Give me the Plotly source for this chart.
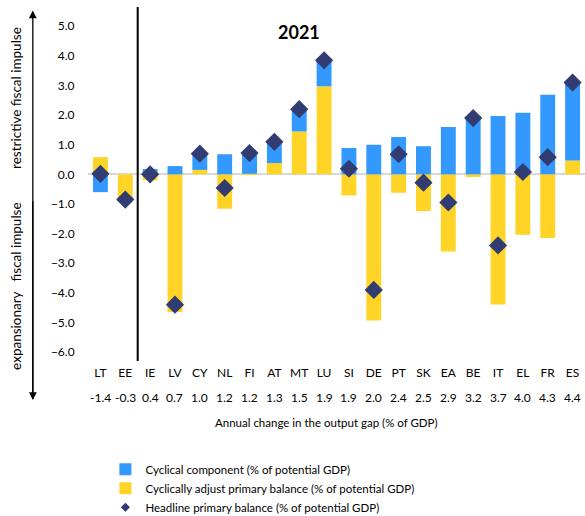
import plotly.graph_objects as go

countries = ["LT", "EE", "IE", "LV", "CY", "NL", "FI", "AT", "MT", "LU",
             "SI", "DE", "PT", "SK", "EA", "BE", "IT", "EL", "FR", "ES"]
gap_change = ["-1.4", "-0.3", "0.4", "0.7", "1.0", "1.2", "1.2", "1.3", "1.5", "1.9",
              "1.9", "2.0", "2.4", "2.5", "2.9", "3.2", "3.7", "4.0", "4.3", "4.4"]
cyclical = [-0.60, -0.05, 0.18, 0.28, 0.55, 0.68, 0.70, 0.72, 0.75, 0.85,
            0.89, 1.00, 1.26, 0.95, 1.60, 1.97, 1.97, 2.08, 2.69, 2.60]
cap_balance = [0.58, -0.78, -0.20, -4.65, 0.15, -1.16, 0.02, 0.38, 1.45, 2.97,
               -0.71, -4.93, -0.62, -1.24, -2.60, -0.09, -4.39, -2.04, -2.15, 0.47]
headline = [0.02, -0.85, 0.00, -4.40, 0.70, -0.46, 0.72, 1.10, 2.20, 3.85,
            0.19, -3.90, 0.68, -0.28, -0.95, 1.90, -2.40, 0.08, 0.58, 3.10]

FONT = "Lato, 'Open Sans', sans-serif"
BLUE = "#3399FF"
YELLOW = "#FFD426"
NAVY = "#313C72"

x = list(range(len(countries)))

fig = go.Figure()
fig.add_trace(go.Bar(x=x, y=cap_balance, name="Cyclically adjust primary balance (% of potential GDP)",
                     marker=dict(color=YELLOW, line=dict(width=0)), legendrank=2))
fig.add_trace(go.Bar(x=x, y=cyclical, name="Cyclical component (% of potential GDP)",
                     marker=dict(color=BLUE, line=dict(width=0)), legendrank=1))
fig.add_trace(go.Scatter(x=x, y=headline, mode="markers", name="Headline primary balance (% of potential GDP)",
                         marker=dict(symbol="diamond", size=14, color=NAVY), showlegend=False))
# legend-only entry with a small diamond
fig.add_trace(go.Scatter(x=[None], y=[None], mode="markers", name="Headline primary balance (% of potential GDP)",
                         marker=dict(symbol="diamond", size=7, color=NAVY), legendrank=3))

annotations = []
for i, g in enumerate(gap_change):
    annotations.append(dict(x=i, y=-0.1035, xref="x", yref="paper", text=g, showarrow=False,
                            font=dict(size=12, color="#000", family=FONT), yanchor="middle"))
annotations += [
    dict(x=0.48, y=-0.175, xref="paper", yref="paper", text="Annual change in the output gap (% of GDP)",
         showarrow=False, font=dict(size=11.5, color="#000", family=FONT), yanchor="middle"),
    dict(x=0.425, y=0.929, xref="paper", yref="paper", text="<b>2021</b>", showarrow=False,
         font=dict(size=18, color="#000", family=FONT), yanchor="middle"),
    dict(x=-0.145, y=0.743, xref="paper", yref="paper", text="restrictive fiscal impulse", textangle=-90,
         showarrow=False, xanchor="center", yanchor="middle", font=dict(size=13.5, color="#000", family=FONT)),
    dict(x=-0.145, y=0.212, xref="paper", yref="paper", text="expansionary   fiscal impulse", textangle=-90,
         showarrow=False, xanchor="center", yanchor="middle", font=dict(size=13.5, color="#000", family=FONT)),
    dict(x=-0.111, y=0.99, xref="paper", yref="paper", text="", showarrow=True, ax=0, ay=390,
         arrowhead=2, arrowsize=1.2, arrowwidth=1.3, arrowcolor="#000"),
    dict(x=-0.111, y=-0.11, xref="paper", yref="paper", text="", showarrow=True, ax=0, ay=-200,
         arrowhead=2, arrowsize=1.2, arrowwidth=1.3, arrowcolor="#000"),
]

fig.update_layout(
    width=585, height=516,
    margin=dict(l=88, r=0, t=7, b=155, autoexpand=False),
    barmode="relative", bargap=0.4,
    plot_bgcolor="white", paper_bgcolor="white",
    font=dict(family=FONT, size=12, color="#000"),
    showlegend=True,
    legend=dict(x=0.035, y=-0.265, xanchor="left", yanchor="top", orientation="v",
                font=dict(size=11.5, family=FONT), itemwidth=30, tracegroupgap=0,
                bgcolor="rgba(0,0,0,0)"),
    annotations=annotations,
    shapes=[dict(type="line", xref="x", yref="paper", x0=1.5, x1=1.5, y0=0, y1=1,
                 line=dict(color="#000", width=2))],
)
fig.update_xaxes(range=[-0.5, 19.5], tickmode="array", tickvals=x, ticktext=countries,
                 showline=False, showgrid=False, zeroline=False, ticks="", ticklabelstandoff=3,
                 tickfont=dict(size=12, family=FONT, color="#000"))
fig.update_yaxes(range=[-6.3, 5.65], dtick=1, tick0=0, tickformat=".1f", showgrid=False,
                 zeroline=True, zerolinecolor="#D9D9D9", zerolinewidth=1.5, showline=False,
                 ticks="outside", ticklen=10, tickcolor="rgba(0,0,0,0)",
                 tickfont=dict(size=12, family=FONT, color="#000"))

fig.write_html("out.html", config={"displayModeBar": False},
               post_script="document.body.style.margin='0';")
